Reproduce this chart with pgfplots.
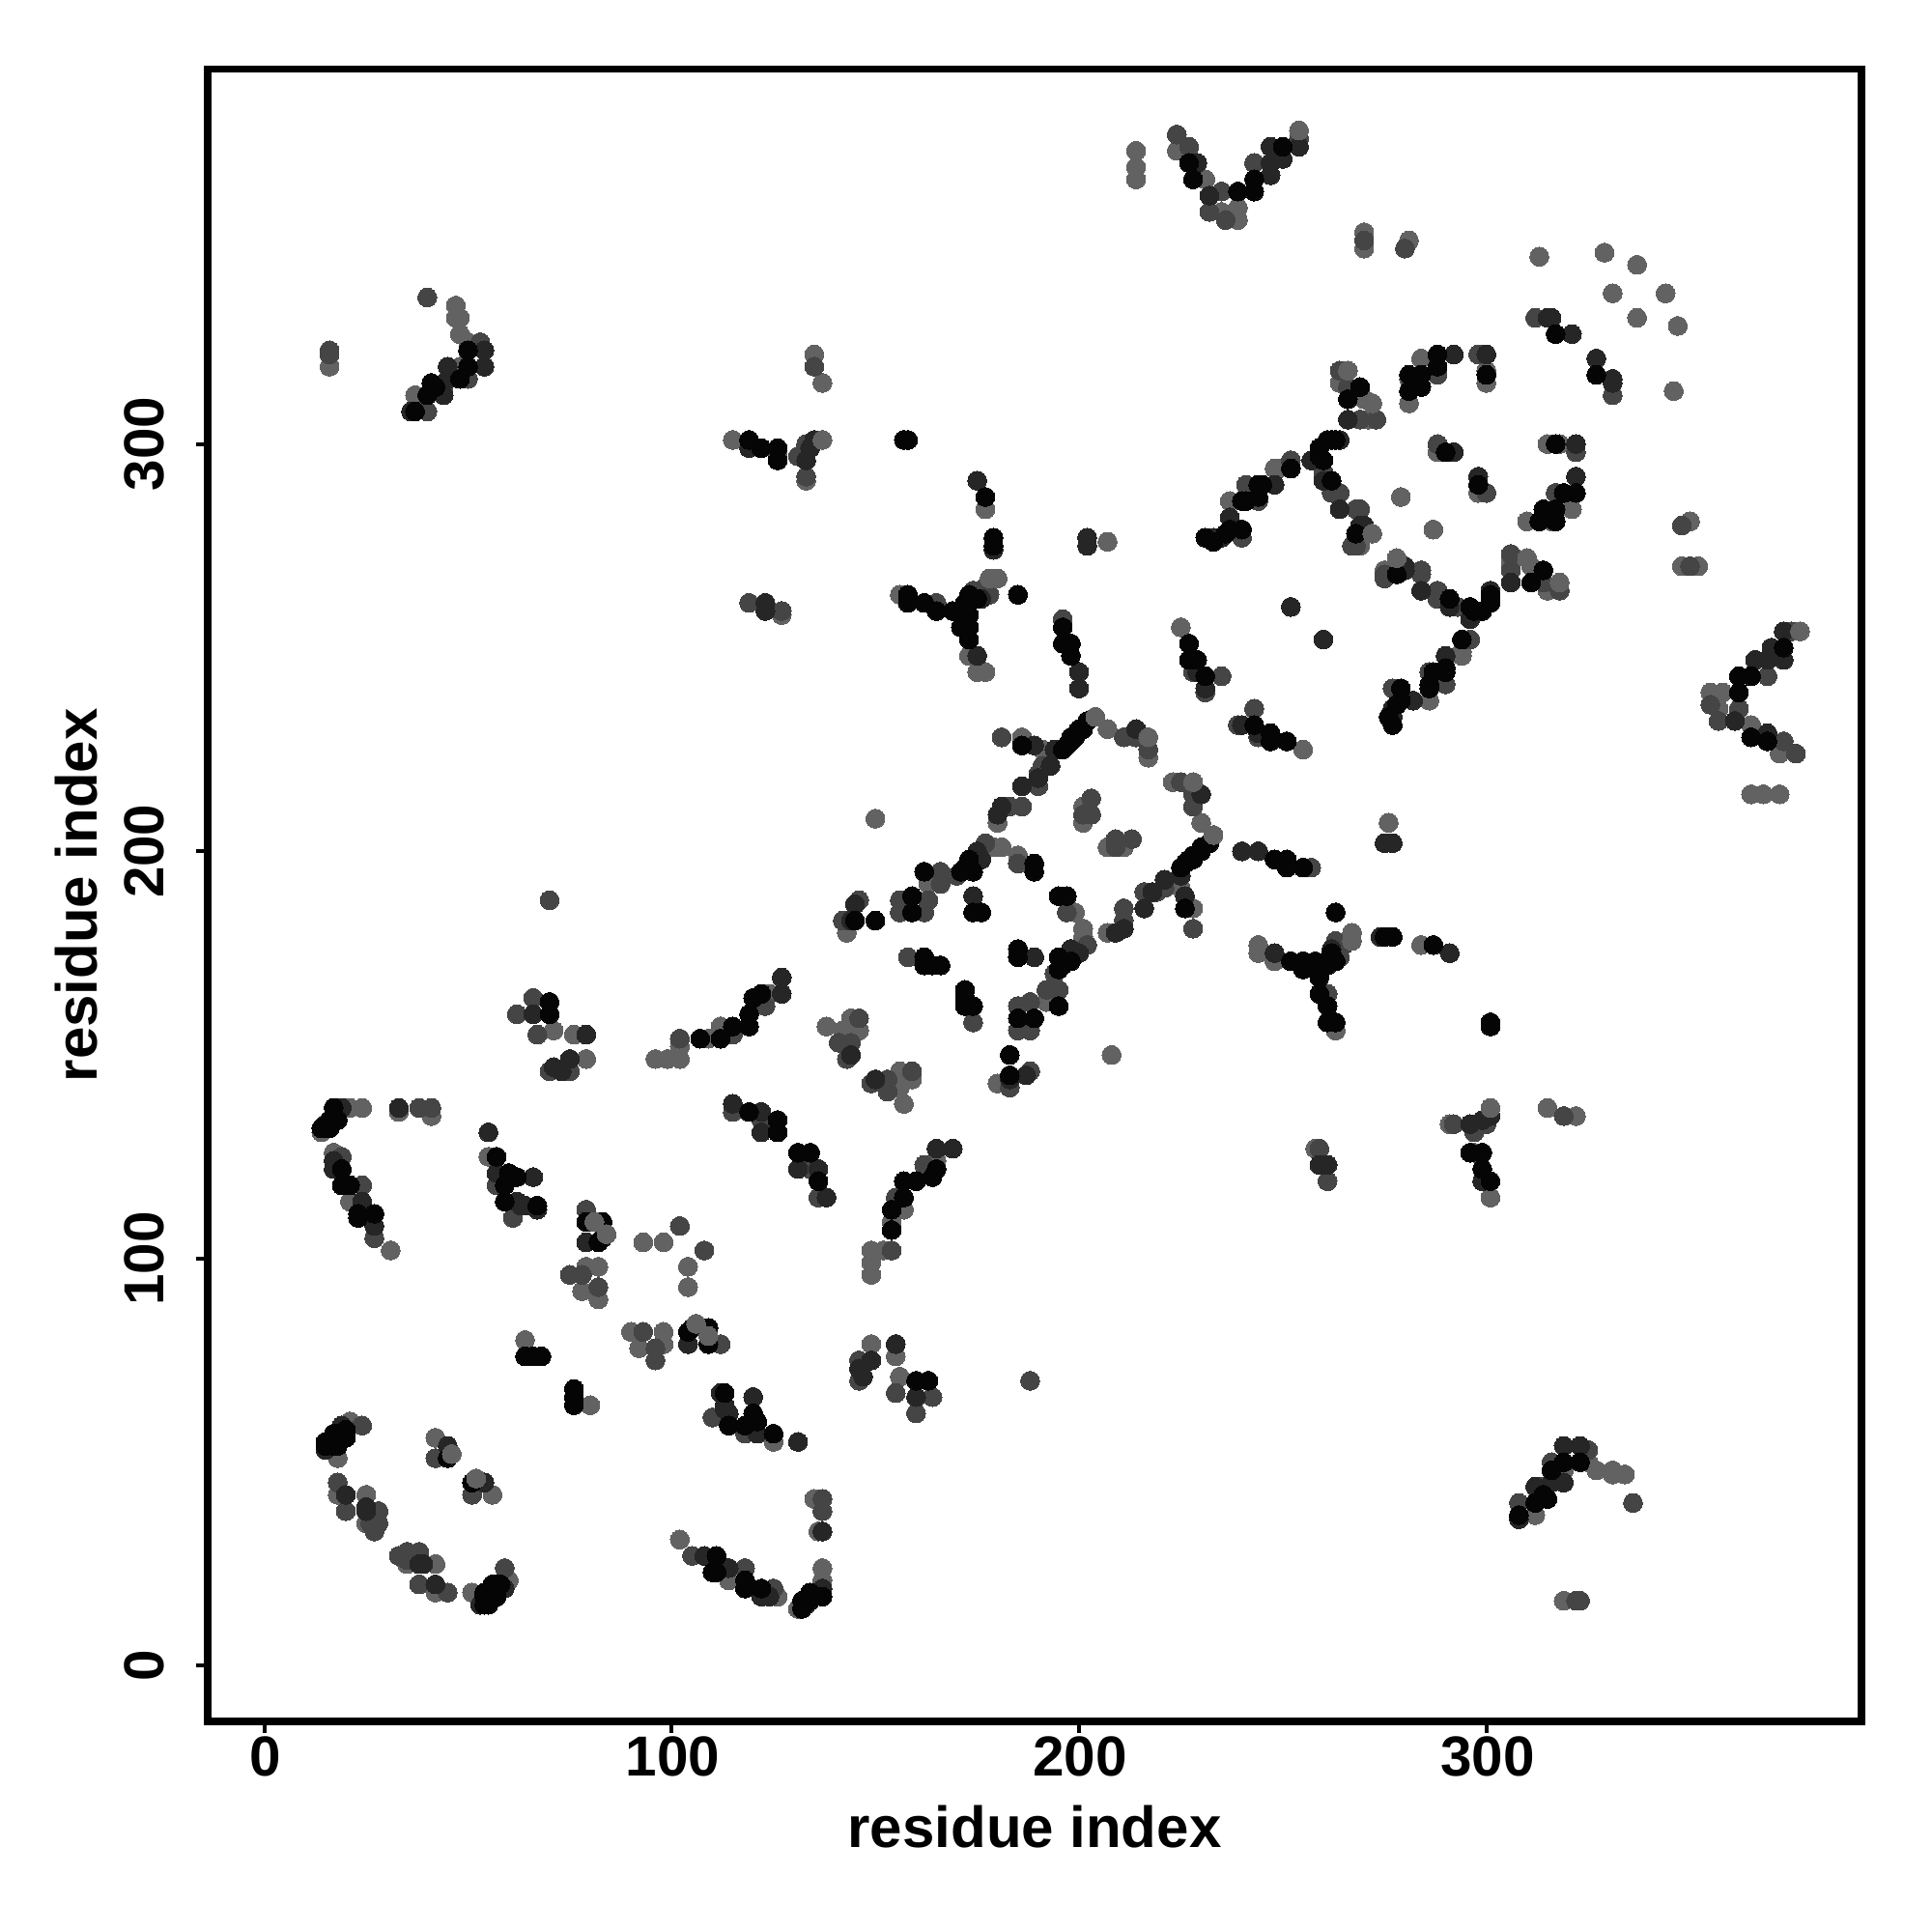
\documentclass[border=0pt]{standalone}
\usepackage{pgfplots}
\usepackage{pgfplotstable}
\usepackage{fontspec}
\setmainfont{Liberation Sans}
\pgfplotsset{compat=1.18}
\definecolor{cg}{gray}{0.385}
\definecolor{cm}{gray}{0.27}
\definecolor{cd}{gray}{0.15}
\definecolor{ck}{gray}{0.02}
\pgfplotstableread{
a b
24 137
33 136
41 135
21 137
14 131
17 126
21 114
31 102
55 125
64 80
79 98
82 98
78 92
82 90
93 104
98 104
21 60
18 51
18 42
25 42
25 35
42 56
138 157
144 159
146 156
142 156
143 180
124 165
112 157
109 154
102 149
102 152
99 149
96 149
79 149
76 155
71 156
150 208
186 228
191 225
207 230
217 223
180 207
201 211
201 207
179 201
181 201
185 199
163 192
173 248
175 244
177 244
156 263
177 284
207 276
225 255
270 352
270 348
281 350
313 346
329 347
337 344
331 337
284 321
281 310
281 316
300 318
300 315
264 315
270 311
271 306
248 294
249 294
237 286
269 275
288 298
279 287
47 334
47 331
48 331
48 327
50 325
48 319
37 312
16 319
135 322
137 315
115 301
126 297
133 291
127 258
214 372
214 368
214 365
224 372
231 365
235 357
239 358
239 355
}\tg
\pgfplotstableread{
a b
38 137
41 137
19 125
24 118
27 105
57 118
61 110
79 112
75 96
78 96
82 93
102 108
115 136
122 134
124 132
24 59
18 45
20 38
28 38
28 35
42 51
26 35
27 33
146 159
144 153
141 153
143 149
146 188
142 183
123 162
115 155
102 154
75 146
70 146
67 155
66 164
62 160
70 188
181 228
211 228
214 228
217 225
191 221
190 216
183 211
186 211
201 209
203 213
203 209
190 219
177 202
170 194
185 197
166 195
166 192
156 188
156 185
163 188
162 185
158 174
228 244
231 239
235 243
196 257
165 261
174 264
177 265
178 263
270 350
280 348
312 331
288 317
298 322
264 318
266 314
269 306
273 306
252 296
241 290
244 286
240 277
260 293
262 288
264 288
269 284
263 288
268 275
268 284
267 275
288 300
40 336
53 325
50 316
44 314
40 308
16 323
16 322
135 319
133 300
131 297
133 292
119 261
127 259
224 376
227 373
235 362
232 357
236 355
243 369
254 375
}\tm
\pgfplotstableread{
a b
33 137
19 137
17 124
17 122
24 114
27 108
15 133
55 131
57 121
66 120
62 114
63 113
64 113
79 104
83 105
67 112
115 138
122 136
122 131
19 59
15 53
20 42
25 38
25 39
45 54
144 150
145 187
144 183
127 165
127 169
79 155
75 149
71 147
73 146
66 160
189 226
194 225
214 230
193 221
190 218
186 216
181 211
180 209
175 200
176 198
174 189
175 248
176 262
229 244
231 243
231 240
200 244
200 240
252 260
175 291
179 274
202 277
202 275
316 331
315 331
321 327
292 322
300 322
266 306
264 301
257 296
248 290
237 282
233 277
235 277
260 291
264 284
270 280
269 280
292 298
45 319
45 316
44 312
36 308
54 323
54 319
119 299
135 301
134 299
133 296
123 261
123 259
229 369
232 361
247 366
247 369
247 373
250 370
254 373
}\td
\pgfplotstableread{
a b
17 135
16 134
14 132
16 132
18 134
19 122
19 118
21 118
23 111
27 111
23 110
17 137
57 125
60 121
62 120
59 118
59 114
67 113
64 76
66 76
68 76
79 109
83 109
82 104
119 136
126 134
126 131
17 57
20 57
15 55
17 55
18 54
45 51
20 56
17 54
18 57
20 58
17 56
15 54
145 183
150 183
122 165
120 164
119 160
119 157
115 157
112 154
107 154
70 160
70 163
186 226
196 225
198 228
200 230
202 232
197 226
199 228
201 230
198 227
173 198
172 196
174 195
171 195
189 197
189 195
162 195
159 189
159 185
174 185
176 185
162 174
162 172
164 172
166 172
227 251
227 247
229 247
231 243
173 263
175 262
172 261
171 258
173 258
171 255
173 255
173 252
158 263
158 261
162 261
165 259
169 259
185 263
177 287
179 277
179 275
196 255
196 251
198 251
198 248
157 301
158 301
317 327
288 322
288 319
284 317
281 317
281 313
284 314
300 317
269 314
266 311
261 301
262 301
263 301
259 299
260 296
259 297
252 294
245 290
244 287
244 290
240 286
241 286
240 279
237 279
236 278
233 276
231 277
262 291
268 278
290 298
50 323
50 319
48 316
41 315
42 314
40 312
37 308
119 301
122 299
126 299
126 296
227 369
228 365
239 362
243 362
243 365
250 373
}\tk
\pgfplotstableread{
a b
81 109
84 106
46 52
204 233
217 228
178 267
180 267
272 278
266 318
272 310
254 377
137 301
}\tt
\begin{document}
\begin{tikzpicture}
\path[use as bounding box] (-53.75pt,-54.5pt) rectangle (446.25pt,445.5pt);
\begin{axis}[
  at={(0pt,0pt)}, anchor=south west,
  scale only axis, width=428pt, height=427.65pt,
  xmin=-13.92, xmax=392.1, ymin=-13.64, ymax=392.1,
  xtick={0,100,200,300}, ytick={0,100,200,300},
  axis line style={line width=1.8pt},
  tick style={line width=1pt, black},
  tick align=outside, major tick length=3pt,
  xtick pos=bottom, ytick pos=left,
  /pgf/number format/assume math mode=true,
  ticklabel style={font=\bfseries\fontsize{14.6}{16}\selectfont},
  yticklabel style={rotate=90, anchor=center, yshift=13.4pt},
  xticklabel style={anchor=center, yshift=-6.2pt, xshift=0.3pt},
  xlabel={residue index}, ylabel={residue index},
  xlabel style={font=\bfseries\fontsize{15}{16}\selectfont, at={(axis description cs:0.5,0)}, anchor=center, yshift=-27.2pt},
  ylabel style={font=\bfseries\fontsize{15}{16}\selectfont, at={(axis description cs:0,0.5)}, anchor=center, yshift=34pt},
  every axis plot/.append style={only marks, mark=*, mark size=2.45pt},
]
\addplot[color=cg, mark options={draw=cg, fill=cg, line width=0pt}] table[x=a,y=b] {\tg};
\addplot[color=cg, mark options={draw=cg, fill=cg, line width=0pt}] table[x=b,y=a] {\tg};
\addplot[color=cm, mark options={draw=cm, fill=cm, line width=0pt}] table[x=a,y=b] {\tm};
\addplot[color=cm, mark options={draw=cm, fill=cm, line width=0pt}] table[x=b,y=a] {\tm};
\addplot[color=cd, mark options={draw=cd, fill=cd, line width=0pt}] table[x=a,y=b] {\td};
\addplot[color=cd, mark options={draw=cd, fill=cd, line width=0pt}] table[x=b,y=a] {\td};
\addplot[color=ck, mark options={draw=ck, fill=ck, line width=0pt}] table[x=a,y=b] {\tk};
\addplot[color=ck, mark options={draw=ck, fill=ck, line width=0pt}] table[x=b,y=a] {\tk};
\addplot[color=cg, mark options={draw=cg, fill=cg, line width=0pt}] table[x=a,y=b] {\tt};
\addplot[color=cg, mark options={draw=cg, fill=cg, line width=0pt}] table[x=b,y=a] {\tt};
\end{axis}
\end{tikzpicture}
\end{document}
